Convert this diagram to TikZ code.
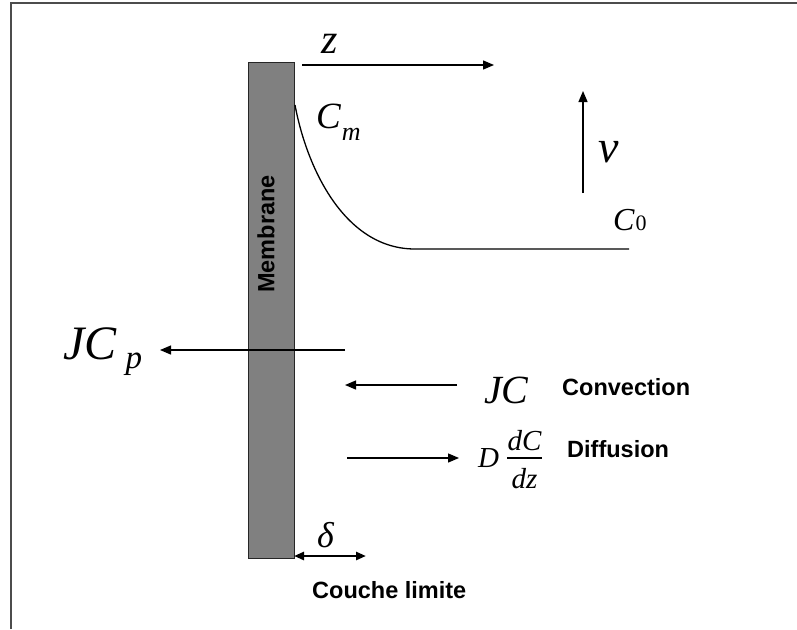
\documentclass[tikz,border=0pt]{standalone}
\usepackage{fontspec}
\setmainfont{Liberation Serif}
\newfontfamily\lbsans{Liberation Sans}
\usetikzlibrary{arrows.meta}

\begin{document}
\begin{tikzpicture}[
x=1pt, y=-1pt,
frame/.style={draw=black!70, line width=2pt},
memb/.style={draw=black!85, fill=black!50, line width=1pt, minimum width=46pt, minimum height=496pt, inner sep=0pt},
arr/.style={-{Triangle[length=11pt,width=9pt]}, line width=1.3pt},
darr/.style={{Triangle[length=10pt,width=8pt]}-{Triangle[length=10pt,width=8pt]}, line width=2.6pt},
prof/.style={line width=1.3pt},
sym/.style={font=\itshape\fontsize{#1}{#1}\selectfont, inner sep=0pt},
lbl/.style={font=\lbsans\bfseries\fontsize{23.5}{24}\selectfont, inner sep=0pt}
]
\useasboundingbox (0,0) rectangle (797,629);
\draw[frame] (11,629) -- (11,3) -- (797,3);

% membrane
\node[memb, anchor=north west] (mem) at (248,62) {};
\node[lbl, rotate=90] (memtxt) at (266,234) {Membrane};

% concentration profile
\coordinate (pm) at (295,105);
\coordinate (pb) at (415,249);
\coordinate (p0) at (629,249);
\draw[prof] (pm) .. controls (307,169) and (345,249) .. (pb) -- (p0);

% axes
\coordinate (zs) at (302,65);
\coordinate (ze) at (494,65);
\coordinate (vs) at (583,193);
\coordinate (ve) at (583,91);
\draw[arr] (zs) -- (ze);
\draw[arr] (vs) -- (ve);

\node[sym=42, anchor=base west] (zlab) at (321,53) {z};
\node[sym=37, anchor=base west] (cm) at (316,128) {C\kern1pt\raisebox{-12pt}{\fontsize{26}{26}\selectfont m}};
\node[sym=46, anchor=base west] (vlab) at (598,162) {v};
\node[sym=32, anchor=base west] (c0) at (613,230) {C\kern1pt{\upshape\fontsize{22}{22}\selectfont 0}};

% fluxes
\coordinate (jcps) at (345,350);
\coordinate (jcpe) at (160,350);
\coordinate (convs) at (457,385);
\coordinate (conve) at (345,385);
\coordinate (diffs) at (347,458);
\coordinate (diffe) at (459,458);
\draw[arr] (jcps) -- (jcpe);
\draw[arr] (convs) -- (conve);
\draw[arr] (diffs) -- (diffe);

\node[sym=48, anchor=base west] (jcp) at (63,359) {JC\kern9pt\raisebox{-9pt}{\fontsize{33}{33}\selectfont p}};
\node[sym=40, anchor=base west] (jc) at (484,403) {JC};
\node[lbl, anchor=base west] (conv) at (562,395) {Convection};

\node[sym=29, anchor=base west] (dlab) at (478,467) {D};
\node[sym=29, anchor=base] (dc) at (524.5,450) {dC};
\node[sym=29, anchor=base] (dz) at (524.5,488) {dz};
\coordinate (barl) at (507,458);
\coordinate (barr) at (542,458);
\draw[line width=1.2pt] (barl) -- (barr);
\node[lbl, anchor=base west] (diffu) at (567,457) {Diffusion};

% boundary layer
\coordinate (dls) at (294,556);
\coordinate (dle) at (366,556);
\draw[darr] (dls) -- (dle);
\node[sym=36, anchor=base west] (delta) at (317,547) {δ};
\node[lbl, anchor=base west] (couche) at (312,598) {Couche limite};
\end{tikzpicture}
\end{document}
